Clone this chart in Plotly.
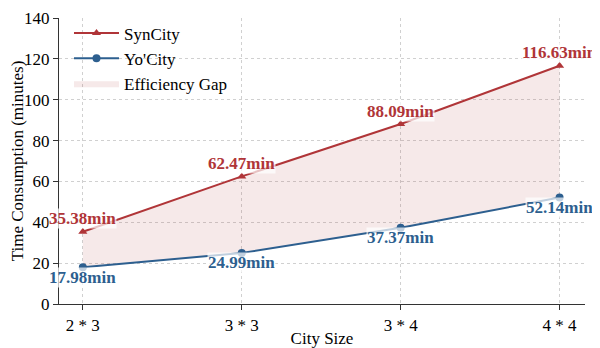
import plotly.graph_objects as go

categories = ["2 * 3", "3 * 3", "3 * 4", "4 * 4"]
syncity = [35.38, 62.47, 88.09, 116.63]
yocity = [17.98, 24.99, 37.37, 52.14]
y_ticks = [0, 20, 40, 60, 80, 100, 120, 140]

RED = "#B03538"
BLUE = "#2D5F8F"
FONT = "Liberation Serif"
xs = list(range(len(categories)))

fig = go.Figure()
fig.add_trace(go.Scatter(x=xs, y=yocity, mode="lines", line=dict(width=0, color=BLUE),
                         showlegend=False, hoverinfo="skip"))
fig.add_trace(go.Scatter(x=xs, y=syncity, mode="lines", fill="tonexty",
                         fillcolor="rgba(176,53,56,0.11)", line=dict(width=0),
                         name="Efficiency Gap", legendrank=3))
fig.add_trace(go.Scatter(x=xs, y=syncity, mode="lines+markers", name="SynCity",
                         line=dict(color=RED, width=2),
                         marker=dict(symbol="triangle-up", size=8, color=RED), legendrank=1))
fig.add_trace(go.Scatter(x=xs, y=yocity, mode="lines+markers", name="Yo'City",
                         line=dict(color=BLUE, width=2),
                         marker=dict(symbol="circle", size=8, color=BLUE), legendrank=2))

for x, v in zip(xs, syncity):
    fig.add_annotation(x=x, y=v, text=f"<b>{v:.2f}min</b>", showarrow=False, yshift=13,
                       font=dict(family=FONT, size=17, color=RED),
                       bgcolor="rgba(255,255,255,0.7)", borderpad=0)
for x, v in zip(xs, yocity):
    fig.add_annotation(x=x, y=v, text=f"<b>{v:.2f}min</b>", showarrow=False, yshift=-10,
                       font=dict(family=FONT, size=17, color=BLUE),
                       bgcolor="rgba(255,255,255,0.7)", borderpad=0)

axis_common = dict(showline=True, linecolor="#333", linewidth=1.2, ticks="outside", ticklen=5,
                   tickcolor="#333", showgrid=True, gridcolor="#d0d0d0", griddash="dot",
                   gridwidth=1, zeroline=False, automargin=False,
                   ticklabeloverflow="allow",
                   tickfont=dict(family=FONT, size=17, color="black"))

# page body has an 8px margin, so the figure is 592x340 and margins are offset by 8px
fig.update_layout(
    width=592, height=340,
    margin=dict(l=51, r=15, t=9, b=44),
    paper_bgcolor="white", plot_bgcolor="white",
    font=dict(family=FONT, size=17, color="black"),
    legend=dict(x=0.019, y=1.005, xanchor="left", yanchor="top", traceorder="normal",
                itemwidth=45,
                bgcolor="rgba(255,255,255,0)", font=dict(family=FONT, size=17),
                tracegroupgap=0),
)
fig.update_xaxes(tickmode="array", tickvals=xs, ticktext=categories, range=[-0.15, 3.16],
                 title=dict(text="City Size", standoff=2,
                            font=dict(family=FONT, size=17)), **axis_common)
fig.update_yaxes(tickmode="array", tickvals=y_ticks, range=[0, 140],
                 title=dict(text="Time Consumption (minutes)", standoff=4,
                            font=dict(family=FONT, size=17)), **axis_common)

fig.write_html("out.html")
